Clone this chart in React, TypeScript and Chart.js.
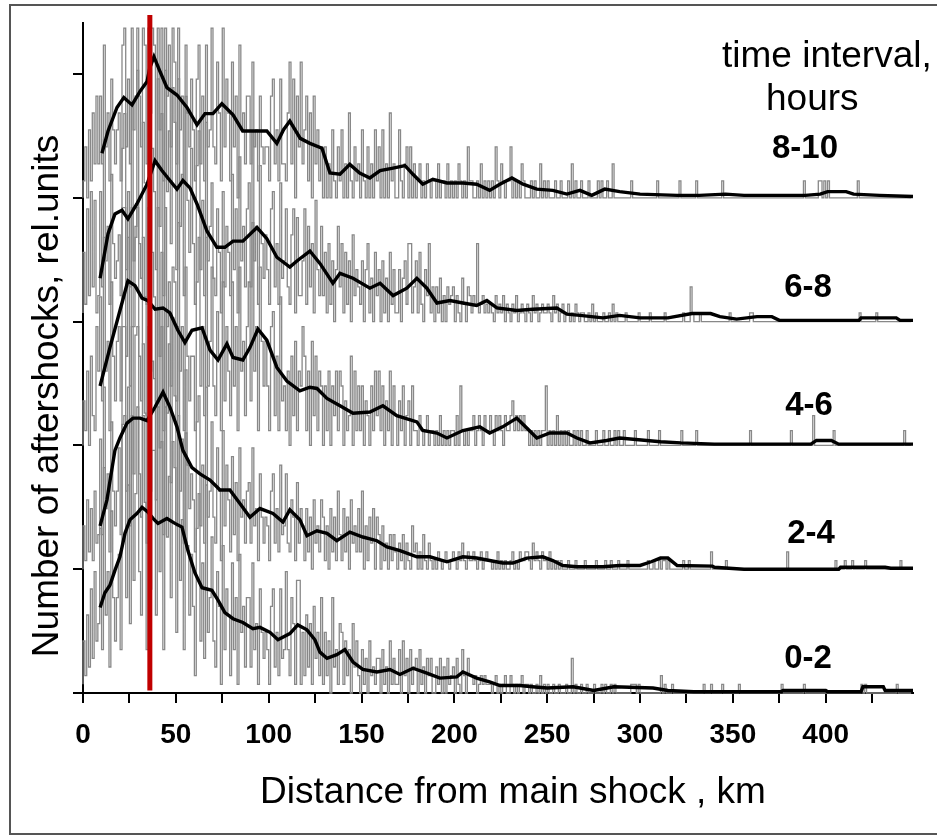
import React, { useEffect, useRef } from 'react';
import { Chart, registerables } from 'chart.js';

Chart.register(...registerables);

// ---------- data ----------
const X_MAX = 447; // km
const Y_MAX = 5.412; // rel. units (series are stacked one unit apart)
const X_TICK_LABELS = ['0', '50', '100', '150', '200', '250', '300', '350', '400'];
const X_TITLE = 'Distance from main shock , km';
const Y_TITLE = 'Number of aftershocks, rel.units';
const LEGEND_TITLE = ['time interval,', 'hours'];
const SERIES_LABELS = ['0-2', '2-4', '4-6', '6-8', '8-10'];
const SERIES_OFFSETS = [0, 1, 2, 3, 4];
// relative units per aftershock count in one 1-km bin (one per series)
const GRAY_UNITS = [0.07, 0.07, 0.12, 0.07, 0.137];
const RED_LINE_KM = 36;
const RED_LINE_TOP = 5.476;

// counts per 1-km bin, km 0..446
const GRAY_0_2 = [
  1,6,2,9,3,12,4,14,6,8,
  19,5,26,9,14,3,21,11,6,11,
  16,5,31,32,11,24,8,32,13,23,
  33,14,9,32,22,5,33,12,28,28,
  9,33,14,29,5,33,18,25,11,29,
  26,7,32,13,20,5,30,17,9,16,
  10,2,19,23,6,15,4,24,7,11,
  18,6,3,14,10,1,17,5,12,9,
  2,15,5,11,1,16,7,10,3,11,
  11,3,15,5,8,1,12,7,4,7,
  5,1,10,12,3,7,2,12,4,5,
  14,5,2,11,8,1,13,13,1,7,
  2,9,3,8,1,10,4,7,2,11,
  1,7,2,6,0,11,3,5,1,8,
  7,1,6,2,5,0,8,3,6,2,
  0,5,1,4,0,6,2,3,1,4,
  4,0,5,1,3,0,6,1,4,1,
  1,5,0,6,2,4,0,5,1,3,
  4,0,5,1,3,0,4,2,4,0,
  0,3,1,4,0,3,0,4,1,2,
  3,0,4,1,0,5,2,0,4,2,
  2,1,2,0,1,2,1,2,1,1,
  1,0,1,2,0,1,0,1,2,0,
  0,2,1,0,1,0,1,2,0,1,
  1,0,1,0,0,1,0,2,0,1,
  0,1,0,0,1,0,0,1,0,0,
  0,1,0,0,4,0,1,0,0,1,
  0,0,1,0,0,0,1,0,0,0,
  1,0,1,0,0,1,0,1,0,0,
  0,0,0,0,0,0,1,1,1,0,
  1,0,0,0,0,0,0,0,0,0,
  0,0,2,0,1,0,0,0,1,0,
  0,0,0,0,0,0,0,0,0,0,
  0,0,0,0,0,1,0,0,0,1,
  0,0,0,0,0,1,0,0,0,0,
  0,0,0,0,1,0,0,0,0,0,
  0,0,0,0,0,0,0,0,0,0,
  0,0,0,0,0,0,0,1,0,0,
  0,0,0,0,0,0,0,0,0,1,
  0,0,0,0,0,0,0,0,0,0,
  0,0,0,0,0,0,0,0,0,0,
  0,0,0,0,0,0,0,0,0,0,
  1,0,1,0,0,0,0,0,0,0,
  0,0,0,0,0,0,0,0,0,1,
  0,0,0,0,0,0,0,
];

const GRAY_2_4 = [
  0,5,1,8,2,7,1,9,3,4,
  15,4,21,7,11,2,17,9,5,9,
  14,4,28,28,9,21,5,28,11,27,
  28,11,6,26,18,3,28,9,24,22,
  8,30,14,28,4,30,18,26,10,29,
  20,5,28,9,15,3,23,12,7,11,
  8,2,17,20,5,12,3,21,6,9,
  17,6,3,14,9,1,16,5,12,8,
  2,13,4,10,1,14,6,8,3,9,
  10,3,14,5,7,1,11,6,3,6,
  5,1,9,11,3,7,2,12,4,5,
  11,3,2,8,6,1,10,3,7,5,
  1,7,2,6,0,8,3,5,2,8,
  6,1,5,0,7,2,6,1,9,4,
  1,7,2,6,0,8,3,5,2,7,
  2,9,0,5,1,6,3,7,0,6,
  4,0,5,1,3,0,4,1,4,2,
  0,3,1,4,0,3,1,0,5,2,
  3,0,2,0,4,1,0,3,1,0,
  1,0,2,1,0,1,2,1,0,1,
  2,1,0,2,1,3,1,0,2,1,
  1,2,1,0,1,2,0,1,2,1,
  1,0,1,0,2,0,1,0,1,0,
  0,1,2,0,1,0,2,1,1,2,
  2,1,0,3,1,2,1,0,2,1,
  1,0,2,0,1,0,1,0,1,0,
  0,0,1,0,0,0,1,0,0,0,
  0,1,0,0,0,0,0,1,0,0,
  0,0,1,0,0,1,0,0,0,1,
  0,0,0,0,1,0,0,0,0,0,
  0,0,0,0,0,1,0,0,1,0,
  0,1,0,1,1,0,1,0,0,0,
  0,0,0,0,1,0,0,1,0,0,
  0,0,0,0,0,0,0,0,0,2,
  0,0,0,0,0,0,0,1,0,0,
  0,0,0,0,0,0,0,0,0,0,
  0,0,0,0,0,0,0,0,0,0,
  0,0,0,0,0,0,0,0,0,0,
  2,0,0,0,0,0,0,0,0,0,
  0,0,0,0,0,0,0,0,0,0,
  0,0,0,0,0,0,1,0,0,0,
  0,1,0,0,0,1,0,0,0,0,
  0,0,1,0,0,0,0,0,0,0,
  0,0,0,0,0,0,0,0,0,0,
  0,1,0,0,0,0,0,
];

const GRAY_4_6 = [
  0,3,1,5,0,6,2,1,8,5,
  10,3,14,5,7,1,11,6,3,7,
  8,3,16,16,6,14,4,16,8,14,
  16,6,3,14,10,2,16,5,13,10,
  3,16,6,13,1,16,8,11,4,12,
  11,3,15,5,8,1,12,6,3,6,
  6,1,11,14,4,8,2,14,4,7,
  12,4,2,9,6,1,11,3,8,5,
  2,11,4,8,1,12,5,7,2,8,
  11,3,15,5,8,1,12,7,4,7,
  4,1,8,9,2,6,1,10,3,4,
  1,5,0,6,2,7,1,5,4,8,
  6,1,5,0,7,2,6,1,5,4,
  0,4,1,5,0,4,2,5,1,5,
  4,0,3,1,2,6,0,5,1,4,
  1,4,0,3,2,0,4,1,5,2,
  5,1,4,0,3,1,5,0,4,2,
  0,3,1,4,0,2,3,0,4,1,
  1,0,2,1,0,1,2,0,1,1,
  0,1,0,2,0,1,0,1,0,1,
  1,0,2,0,4,1,0,1,0,1,
  1,2,0,1,2,1,0,2,1,1,
  2,1,0,2,1,2,1,0,2,1,
  1,2,3,1,2,1,2,1,2,1,
  1,0,1,0,1,0,1,0,1,1,
  4,0,1,0,1,0,2,0,1,0,
  1,0,1,0,0,1,0,1,0,1,
  0,0,1,0,0,0,0,1,0,0,
  0,1,0,0,1,0,0,1,0,1,
  0,0,1,0,0,0,0,0,1,0,
  0,0,0,0,0,1,0,0,0,0,
  0,1,0,0,0,0,0,0,0,0,
  0,0,0,1,0,0,0,0,0,0,
  0,1,0,0,0,0,0,0,0,0,
  0,0,0,0,0,0,0,0,0,0,
  0,0,0,0,0,0,0,0,0,0,
  1,0,0,0,0,0,0,0,0,0,
  0,0,0,0,0,0,0,0,0,0,
  0,0,1,0,0,0,0,0,0,0,
  0,0,0,0,2,0,0,0,0,0,
  0,0,0,0,0,1,0,0,0,0,
  0,0,0,0,0,0,0,0,0,0,
  0,0,0,0,0,0,0,0,0,0,
  0,0,0,0,0,0,0,0,0,0,
  0,0,0,1,0,0,0,
];

const GRAY_6_8 = [
  1,8,2,13,3,15,4,14,1,3,
  15,4,21,7,11,2,17,9,5,7,
  10,3,20,24,6,15,4,25,7,11,
  29,9,5,23,16,2,28,8,20,15,
  6,28,11,24,3,29,15,22,9,27,
  23,6,28,11,17,3,26,14,8,20,
  9,2,18,22,6,14,3,23,7,11,
  16,5,3,13,8,1,15,4,11,8,
  3,17,6,13,1,19,7,11,4,13,
  16,4,22,7,11,2,18,9,5,10,
  6,2,13,15,4,9,2,16,5,7,
  13,4,2,10,13,1,12,3,3,7,
  13,2,11,4,9,1,14,6,3,11,
  3,8,1,9,2,7,0,6,11,4,
  9,1,8,2,7,0,10,3,6,4,
  2,7,0,6,9,1,5,0,8,3,
  6,0,7,1,5,0,8,2,6,1,
  1,6,0,5,7,2,9,9,1,4,
  7,1,8,2,0,6,3,9,1,4,
  0,4,1,5,0,3,0,4,2,3,
  4,0,3,1,0,5,2,0,4,3,
  1,3,2,9,1,2,3,1,2,1,
  2,1,0,3,1,2,1,3,0,2,
  1,0,2,1,3,0,1,2,1,0,
  2,1,0,3,1,2,0,1,2,1,
  1,2,1,0,3,1,2,0,1,2,
  0,1,2,0,1,0,2,1,0,1,
  1,0,0,1,0,2,0,1,0,0,
  0,1,0,0,1,0,2,0,1,0,
  0,0,0,1,0,0,0,0,0,0,
  1,0,0,0,0,0,1,0,0,0,
  0,0,0,0,1,0,0,0,0,0,
  0,0,0,0,1,0,0,0,4,1,
  0,0,0,1,0,0,0,0,0,0,
  0,0,0,0,0,0,0,0,0,1,
  0,0,0,0,0,0,0,0,0,0,
  1,1,0,0,0,0,0,0,0,0,
  0,0,0,0,0,0,0,0,0,0,
  0,0,0,0,0,0,0,0,0,0,
  0,0,0,0,0,0,0,0,0,0,
  0,0,0,0,0,0,0,0,0,0,
  0,0,0,0,0,0,0,0,0,1,
  0,0,0,0,0,0,0,0,1,0,
  0,0,0,0,0,0,0,0,0,0,
  0,0,0,0,0,0,0,
];

const GRAY_8_10 = [
  0,1,3,0,4,1,5,2,6,2,
  6,2,9,3,5,1,7,4,2,4,
  5,1,9,10,3,7,2,10,4,6,
  10,6,3,10,9,2,10,5,10,9,
  2,10,4,10,1,10,6,9,3,10,
  8,2,10,4,6,1,9,5,3,7,
  4,1,7,9,2,6,1,9,3,4,
  10,3,2,8,5,1,10,3,7,5,
  1,8,3,6,0,9,4,5,2,6,
  6,2,8,3,4,1,6,3,2,3,
  3,1,6,7,2,4,1,7,2,2,
  1,5,8,2,7,0,6,3,8,2,
  4,6,1,5,0,6,2,4,1,3,
  0,3,0,2,0,4,1,0,3,1,
  4,0,2,0,5,1,0,3,1,2,
  0,4,1,0,3,0,2,0,4,1,
  3,0,4,0,2,0,5,1,2,0,
  0,4,1,0,2,3,0,3,0,2,
  0,1,2,0,1,0,2,1,0,1,
  1,0,2,0,1,1,0,2,0,1,
  0,1,0,2,1,0,1,0,3,1,
  1,0,0,1,0,2,0,1,0,1,
  0,1,0,3,1,0,2,1,0,1,
  1,3,0,1,0,1,0,2,1,0,
  0,0,1,0,1,0,0,2,0,1,
  0,1,0,0,0,1,0,0,1,0,
  0,0,1,0,2,0,1,0,0,1,
  0,0,0,1,0,0,0,0,1,0,
  1,0,0,1,0,0,2,0,0,0,
  0,0,0,0,0,0,1,0,0,0,
  0,0,0,0,0,0,0,0,0,0,
  1,0,0,0,0,0,0,0,0,0,
  0,0,1,0,0,0,0,0,0,0,
  0,1,0,0,0,0,0,0,0,0,
  0,0,0,0,0,1,0,0,0,0,
  0,0,0,0,0,0,0,0,0,0,
  0,0,0,0,0,0,0,0,0,0,
  0,0,0,0,0,0,0,0,0,0,
  0,0,0,0,0,0,0,0,0,1,
  0,0,0,0,0,0,0,1,1,0,
  1,0,1,0,0,0,0,0,0,0,
  0,0,0,0,0,0,0,0,1,0,
  0,0,0,0,0,0,0,0,0,0,
  0,0,0,0,0,0,0,0,0,0,
  0,0,0,0,0,0,0,
];

// smoothed curves: [km, rel. units above the series baseline]
const BLACK_0_2 = [
  [9.2,0.69],[11.8,0.81],[14.5,0.87],[17.2,0.99],[19.9,1.10],[22.6,1.29],[25.3,1.40],[29,1.45],
  [31.8,1.50],[35,1.46],[37.7,1.41],[40.4,1.37],[45.2,1.41],[49.5,1.37],[53.3,1.34],[56.5,1.15],
  [60.3,0.97],[64.1,0.85],[69.4,0.83],[72.7,0.75],[76.4,0.65],[80.8,0.60],[86.1,0.57],[91.5,0.52],
  [95.3,0.53],[100.7,0.49],[105,0.43],[111.4,0.48],[115.7,0.55],[120.6,0.51],[124.9,0.43],[127.6,0.33],
  [131.4,0.28],[136.7,0.31],[141,0.35],[145.4,0.25],[150.7,0.19],[158.3,0.17],[165.3,0.19],[170.7,0.15],
  [177.7,0.20],[185.2,0.16],[192.2,0.12],[201.3,0.13],[204.6,0.17],[212,0.12],[219,0.09],[224.5,0.06],
  [235.3,0.06],[242,0.05],[250,0.04],[264,0.05],[275,0.02],[286,0.05],[307,0.04],[315,0.02],
  [329,0.01],[376,0.01],[377,0.02],[400,0.02],[401,0.01],[419,0.01],[420,0.05],[431,0.05],
  [432,0.02],[447,0.02],
];
const BLACK_2_4 = [
  [9.2,0.35],[12.9,0.56],[17.2,0.96],[19.9,1.06],[23.7,1.18],[26.9,1.22],[30.7,1.22],[34.5,1.20],
  [38.8,1.31],[43.1,1.43],[46.8,1.31],[50.6,1.15],[53.8,0.96],[58.7,0.82],[63,0.77],[68.4,0.72],
  [73.8,0.64],[79.1,0.64],[84.5,0.53],[89.9,0.42],[95.3,0.49],[102.3,0.45],[107.7,0.38],[111.4,0.48],
  [116.8,0.40],[120.6,0.27],[126,0.31],[131.4,0.29],[136.7,0.23],[143.7,0.30],[150.7,0.26],[158.3,0.23],
  [163.7,0.18],[170.7,0.15],[179.8,0.10],[186.8,0.10],[196,0.06],[204.6,0.10],[212,0.09],[219,0.07],
  [226,0.05],[231.5,0.05],[239,0.09],[247.6,0.10],[253,0.07],[258.4,0.03],[266,0.02],[280,0.02],
  [289,0.03],[300,0.03],[306,0.06],[311,0.09],[315,0.09],[320,0.03],[339,0.025],[340,0.016],
  [356,0.0],[407,0.0],[408,0.016],[432,0.016],[435,0.008],[447,0.008],
];
const BLACK_4_6 = [
  [9.2,0.48],[14.5,0.79],[19.9,1.09],[24.2,1.33],[28,1.29],[31.8,1.19],[35,1.17],[38.8,1.10],
  [43.1,1.11],[46.8,1.07],[51.1,0.93],[54.9,0.83],[58.7,0.93],[64.1,0.95],[68.4,0.77],[72.7,0.69],
  [77.5,0.82],[80.8,0.71],[86.1,0.69],[89.9,0.79],[94.2,0.94],[99,0.85],[104.4,0.63],[109.8,0.52],
  [116.8,0.44],[122.2,0.47],[126,0.46],[131.4,0.38],[138.4,0.32],[145.4,0.26],[154.5,0.27],[161.5,0.32],
  [169,0.24],[179.8,0.19],[183,0.12],[190.6,0.10],[196,0.06],[204.6,0.12],[213.7,0.15],[219,0.10],
  [226,0.15],[233.6,0.22],[239,0.14],[244.4,0.06],[251.4,0.10],[260.6,0.10],[266,0.06],[273,0.02],
  [282,0.04],[289,0.06],[311,0.03],[322,0.02],[340,0.01],[392,0.01],[395,0.04],[403,0.04],
  [407,0.01],[447,0.01],
];
const BLACK_6_8 = [
  [9.2,0.35],[13.5,0.71],[17.2,0.87],[21,0.90],[24.2,0.83],[29,0.95],[34.5,1.11],[38.8,1.30],
  [42.5,1.22],[46.8,1.14],[50.6,1.07],[53.8,1.14],[57.6,1.08],[61.4,0.95],[66.8,0.73],[72.1,0.60],
  [76.4,0.60],[80.8,0.65],[86.1,0.65],[93.7,0.76],[99,0.67],[104.4,0.52],[111.4,0.44],[115.2,0.49],
  [122.2,0.57],[127.6,0.47],[134.6,0.31],[138.4,0.39],[145.4,0.35],[154.5,0.27],[160,0.31],[167,0.21],
  [174.4,0.27],[179.8,0.35],[185.2,0.27],[190.6,0.15],[197.6,0.17],[204.6,0.15],[212,0.13],[217.5,0.17],
  [222.9,0.11],[233.6,0.09],[242.3,0.10],[255.2,0.11],[260.6,0.06],[267.6,0.05],[280,0.03],[289,0.05],
  [300,0.03],[315,0.03],[328,0.065],[338,0.065],[343,0.04],[352,0.02],[363,0.04],[371,0.04],
  [375,0.01],[418,0.01],[419,0.03],[438,0.03],[440,0.01],[447,0.01],
];
const BLACK_8_10 = [
  [10.2,0.36],[13.5,0.54],[18.3,0.73],[22,0.81],[26.4,0.75],[30.7,0.86],[34.5,0.94],[36,1.05],
  [38.2,1.14],[41.5,1.02],[45.2,0.89],[50.6,0.83],[56,0.73],[61.4,0.59],[65.7,0.68],[70,0.68],
  [74.8,0.76],[80.8,0.67],[86,0.54],[92.6,0.54],[99,0.54],[104.4,0.44],[108,0.55],[111.4,0.62],
  [117,0.48],[122.2,0.44],[128.7,0.40],[133,0.20],[138.4,0.19],[143.7,0.27],[149,0.20],[154.5,0.16],
  [160,0.22],[167,0.24],[173.4,0.26],[177.7,0.19],[183,0.11],[188.4,0.15],[196,0.12],[204.6,0.12],
  [212,0.11],[219,0.06],[224.5,0.11],[231,0.16],[237,0.11],[244.4,0.07],[253,0.06],[260.6,0.03],
  [267.6,0.06],[274,0.02],[281,0.07],[289,0.05],[300,0.03],[320,0.02],[332,0.02],[346,0.03],
  [356,0.02],[389,0.02],[397,0.03],[401,0.05],[411,0.05],[415,0.03],[429,0.02],[447,0.01],
];

const GRAY_SERIES = [GRAY_0_2, GRAY_2_4, GRAY_4_6, GRAY_6_8, GRAY_8_10];
const BLACK_SERIES = [BLACK_0_2, BLACK_2_4, BLACK_4_6, BLACK_6_8, BLACK_8_10];

// ---------- layout (pixels) ----------
const W = 937;
const H = 835;
const FONT = '"Liberation Sans", Arial, Helvetica, sans-serif';
const LABEL_POS = [
  [808, 668],
  [811, 543],
  [809, 415],
  [808, 297],
  [805, 158],
];

const annotationPlugin = {
  id: 'annotations',
  afterDraw(chart: any) {
    const ctx = chart.ctx as CanvasRenderingContext2D;
    ctx.save();
    // frame around the figure
    ctx.strokeStyle = '#555';
    ctx.lineWidth = 2;
    ctx.strokeRect(10, 5, 1000, 829);

    ctx.fillStyle = '#000';
    ctx.textBaseline = 'alphabetic';
    ctx.font = `37px ${FONT}`;
    ctx.textAlign = 'center';
    ctx.fillText(X_TITLE, 513, 803);

    ctx.save();
    ctx.translate(58, 396);
    ctx.rotate(-Math.PI / 2);
    ctx.fillText(Y_TITLE, 0, 0);
    ctx.restore();

    ctx.textAlign = 'left';
    ctx.fillText(LEGEND_TITLE[0], 722, 67);
    ctx.fillText(LEGEND_TITLE[1], 766, 110);

    ctx.font = `bold 33px ${FONT}`;
    ctx.textAlign = 'center';
    SERIES_LABELS.forEach((lab, i) => {
      ctx.fillText(lab, LABEL_POS[i][0], LABEL_POS[i][1]);
    });
    ctx.restore();
  },
};

export default function App() {
  const ref = useRef<HTMLCanvasElement>(null);

  useEffect(() => {
    const canvas = ref.current;
    if (!canvas) return;

    const datasets: any[] = [
      {
        label: 'red',
        data: [
          { x: RED_LINE_KM, y: 0.02 },
          { x: RED_LINE_KM, y: RED_LINE_TOP },
        ],
        borderColor: '#c00000',
        borderWidth: 5,
        pointRadius: 0,
        order: 0,
        clip: false,
      },
    ];

    SERIES_LABELS.forEach((lab, k) => {
      datasets.push({
        label: `${lab} smoothed`,
        data: BLACK_SERIES[k].map(([x, y]) => ({ x, y: SERIES_OFFSETS[k] + y })),
        borderColor: '#000',
        borderWidth: 3.4,
        pointRadius: 0,
        tension: 0,
        order: 1,
        clip: false,
      });
      datasets.push({
        label: lab,
        data: GRAY_SERIES[k].map((c, i) => ({ x: i, y: SERIES_OFFSETS[k] + c * GRAY_UNITS[k] })),
        borderColor: '#888888',
        borderWidth: 1.3,
        stepped: 'after',
        pointRadius: 0,
        order: 2,
        clip: false,
      });
    });

    const chart = new Chart(canvas, {
      type: 'line',
      data: { datasets },
      options: {
        animation: false,
        responsive: false,
        devicePixelRatio: 1,
        events: [],
        layout: { padding: { top: 23, right: 24, left: 0, bottom: 0 } },
        plugins: {
          legend: { display: false },
          tooltip: { enabled: false },
          title: { display: false },
        },
        scales: {
          x: {
            type: 'linear',
            min: 0,
            max: X_MAX,
            afterFit: (s: any) => {
              s.height = H - 693;
            },
            border: { display: true, color: '#000', width: 2 },
            grid: {
              drawOnChartArea: false,
              drawTicks: true,
              tickLength: 10,
              color: '#000',
              lineWidth: 2,
            },
            ticks: {
              stepSize: 25,
              autoSkip: false,
              maxRotation: 0,
              minRotation: 0,
              includeBounds: false,
              padding: 15,
              color: '#000',
              font: { family: FONT, size: 28, weight: 'bold' },
              callback: (v: any) => (X_TICK_LABELS.includes(String(v)) ? String(v) : ''),
            },
          },
          y: {
            type: 'linear',
            min: 0,
            max: Y_MAX,
            afterFit: (s: any) => {
              s.width = 83;
            },
            border: { display: true, color: '#000', width: 2 },
            grid: {
              drawOnChartArea: false,
              drawTicks: true,
              tickLength: 10,
              color: '#000',
              lineWidth: 2,
            },
            ticks: { stepSize: 1, display: false, includeBounds: false },
          },
        },
      } as any,
      plugins: [annotationPlugin],
    });

    return () => chart.destroy();
  }, []);

  return (
    <div style={{ position: 'fixed', left: 0, top: 0, width: W, height: H, background: '#fff' }}>
      <canvas ref={ref} width={W} height={H} style={{ display: 'block' }} />
    </div>
  );
}
